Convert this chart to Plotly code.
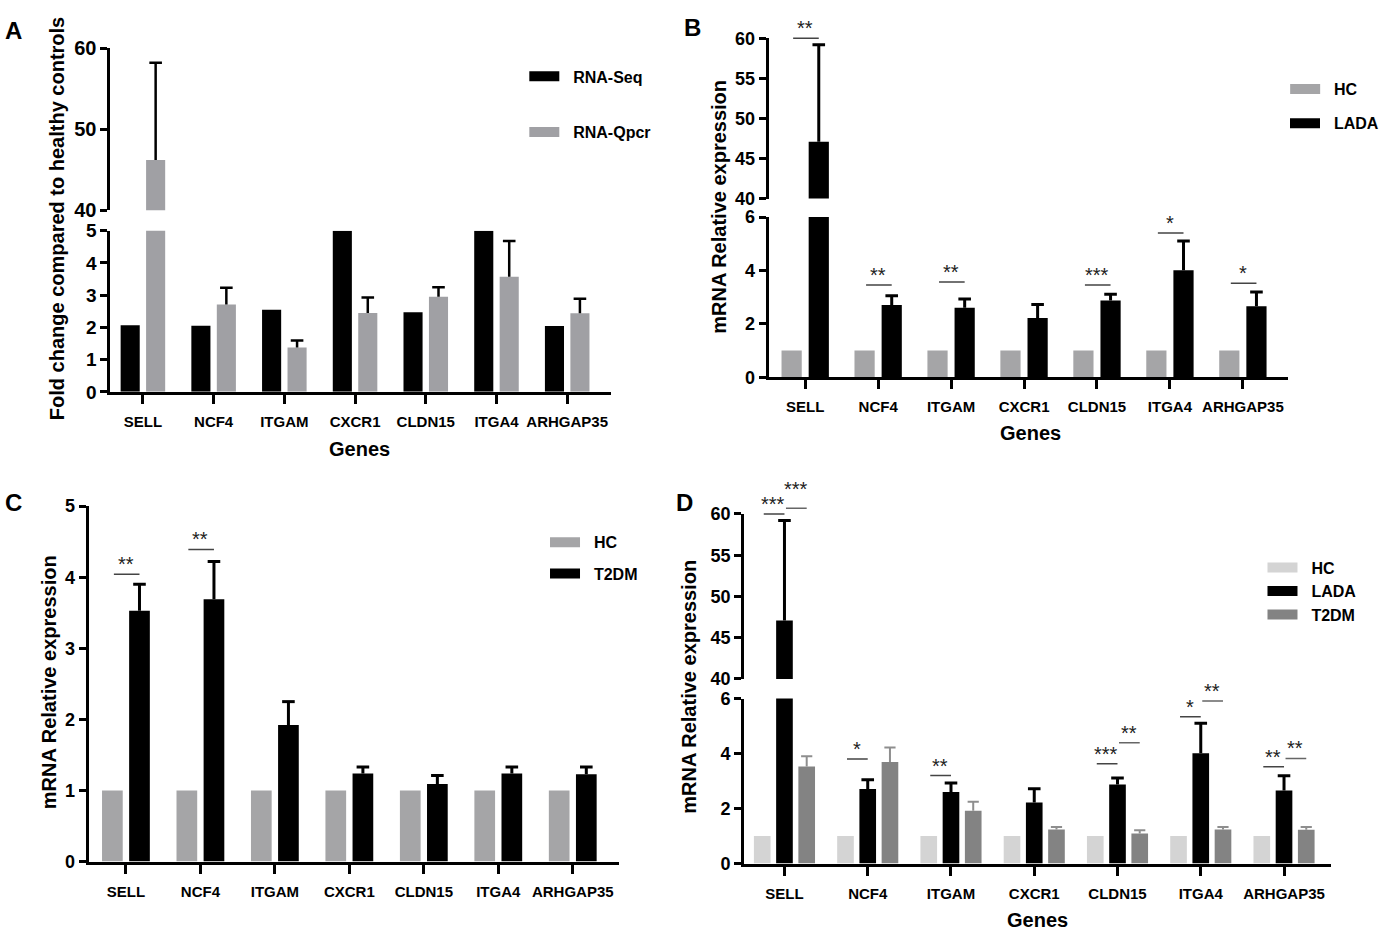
import plotly.graph_objects as go

W, H = 1384, 939
FONT = "Liberation Sans, Arial, sans-serif"

genes = ["SELL", "NCF4", "ITGAM", "CXCR1", "CLDN15", "ITGA4", "ARHGAP35"]

# panel A: fold change vs healthy controls
rna_seq = [2.07, 2.05, 2.55, 5.0, 2.47, 5.0, 2.04]
rna_qpcr = [46.2, 2.71, 1.38, 2.45, 2.95, 3.57, 2.44]
rna_qpcr_err = [12.0, 0.52, 0.21, 0.48, 0.30, 1.11, 0.45]

# panels B-D: relative mRNA expression
hc = [1, 1, 1, 1, 1, 1, 1]
lada = [47.1, 2.71, 2.60, 2.22, 2.87, 4.01, 2.66]
lada_err = [12.1, 0.34, 0.33, 0.50, 0.24, 1.09, 0.53]
t2dm = [3.53, 3.69, 1.92, 1.24, 1.09, 1.24, 1.23]
t2dm_err = [0.37, 0.53, 0.33, 0.09, 0.12, 0.09, 0.10]

# significance marks (gene index, line level, label)
sig_b_idx = [0, 1, 2, 4, 5, 6]
sig_b_lvl = [60, 3.45, 3.57, 3.45, 5.4, 3.52]
sig_b_txt = ["**", "**", "**", "***", "*", "*"]

sig_c_idx = [0, 1]
sig_c_lvl = [4.04, 4.39]
sig_c_txt = ["**", "**"]

sig_d1_idx = [0, 1, 2, 4, 5, 6]
sig_d1_lvl = [60, 3.8, 3.2, 3.63, 5.34, 3.52]
sig_d1_txt = ["***", "*", "**", "***", "*", "**"]

sig_d2_idx = [0, 4, 5, 6]
sig_d2_lvl = [60.7, 4.39, 5.91, 3.82]
sig_d2_txt = ["***", "**", "**", "**"]


def px(v):
    return v / W


def py(v):
    return 1 - v / H


def sfx(n):
    return "" if n == 1 else str(n)


fig = go.Figure()
layout = {}
annotations = []
yranges = {}


def make_x(n, dom, rng, visible=True):
    layout["xaxis" + sfx(n)] = dict(
        domain=[px(dom[0]), px(dom[1])], range=rng, anchor="y" + sfx(n),
        visible=visible, tickmode="array", tickvals=list(range(len(genes))),
        ticktext=genes, showline=True, linewidth=3, linecolor="black",
        ticks="outside", ticklen=9, tickwidth=3, tickcolor="black",
        showgrid=False, zeroline=False, ticklabelstandoff=5,
        tickfont=dict(family=FONT, size=15, color="black", weight="bold"),
    )


def make_y(n, dom, rng, dtick, size=18):
    yranges[n] = rng
    layout["yaxis" + sfx(n)] = dict(
        domain=[py(dom[1]), py(dom[0])], range=rng, anchor="x" + sfx(n),
        tick0=rng[0], dtick=dtick, showline=True, linewidth=3,
        linecolor="black", ticks="outside", ticklen=7, tickwidth=3,
        tickcolor="black", showgrid=False, zeroline=False,
        tickfont=dict(family=FONT, size=size, color="black", weight="bold"),
    )


def bars(axes, values, off, width, color):
    xs = [i + off for i in range(len(values))]
    for n in axes:
        fig.add_trace(go.Bar(
            x=xs, y=values, width=width, xaxis="x" + sfx(n), yaxis="y" + sfx(n),
            marker=dict(color=color, line=dict(width=0)),
            showlegend=False, hoverinfo="skip"))


def errs(axes, values, err, off, color, thick, cap):
    xs = [i + off for i in range(len(values))]
    top = [v + e for v, e in zip(values, err)]
    for n in axes:
        fig.add_trace(go.Scatter(
            x=xs, y=top, mode="markers", xaxis="x" + sfx(n), yaxis="y" + sfx(n),
            marker=dict(symbol="line-ew", size=cap, color=color,
                        line=dict(width=thick, color=color)),
            error_y=dict(type="data", symmetric=False, array=[0] * len(err),
                         arrayminus=err, width=0, thickness=thick, color=color),
            showlegend=False, hoverinfo="skip"))


def sig(n_lo, n_up, idx, lvl, txt, off0, off1, color, lift=None):
    lift = lift or {}
    for k, (i, lev, lab) in enumerate(zip(idx, lvl, txt)):
        n = n_up if (n_up and lev >= 40) else n_lo
        lo, hi = yranges[n]
        frac = (lev - lo) / (hi - lo)  # position inside the axis domain
        x0, x1 = i + off0, i + off1
        yr = "y" + sfx(n) + " domain"
        annotations.append(dict(
            xref="x" + sfx(n), yref=yr, axref="x" + sfx(n), ayref=yr,
            x=x1, y=frac, ax=x0, ay=frac, text="", showarrow=True,
            arrowhead=0, arrowwidth=1.5, arrowcolor=color, standoff=0,
            startstandoff=0))
        annotations.append(dict(
            xref="x" + sfx(n), yref=yr, x=(x0 + x1) / 2, y=frac, text=lab,
            showarrow=False, yanchor="bottom", yshift=-3 + lift.get(k, 0),
            font=dict(family=FONT, size=20, color="#222222")))


legend_count = [0]


def legend_item(label, color, left, cy):
    legend_count[0] += 1
    k = legend_count[0]
    fig.add_trace(go.Scatter(
        x=[None], y=[None], mode="lines", name="\u00a0\u00a0" + label,
        line=dict(color=color, width=10), legend="legend" + sfx(k),
        showlegend=True, hoverinfo="skip"))
    layout["legend" + sfx(k)] = dict(
        x=px(left - 3), y=py(cy), xanchor="left", yanchor="middle",
        bgcolor="rgba(0,0,0,0)", borderwidth=0, itemclick=False,
        font=dict(family=FONT, size=16, color="black", weight="bold"))


def text(s, x, y, size, angle=0):
    annotations.append(dict(
        xref="paper", yref="paper", x=px(x), y=py(y), text=s, showarrow=False,
        textangle=angle, xanchor="center", yanchor="middle",
        font=dict(family=FONT, size=size, color="black", weight="bold")))


# ---- panel A (broken axis 0-5 / 40-60)
rngA = [-0.46, 6.62]
make_x(1, (112, 620), rngA)
make_y(1, (225, 390), [0, 5], 1, size=19)
make_x(2, (112, 620), rngA, visible=False)
make_y(2, (38, 204), [40, 60], 10, size=20)
bars([1, 2], rna_seq, -0.18, 0.27, "#000000")
bars([1, 2], rna_qpcr, 0.18, 0.27, "#a0a0a4")
errs([1, 2], rna_qpcr, rna_qpcr_err, 0.18, "#000000", 2.5, 9)
legend_item("RNA-Seq", "#000000", 535, 67)
legend_item("RNA-Qpcr", "#a0a0a4", 535, 124)
text("Fold change compared to healthy controls", 58, 213, 20, -90)
text("Genes", 365, 449, 20)
text("A", 14, 20, 24)

# ---- panel B (broken axis 0-6 / 40-60)
rngB = [-0.5, 6.62]
make_x(3, (780, 1307), rngB)
make_y(3, (211, 375), [0, 6], 2)
make_x(4, (780, 1307), rngB, visible=False)
make_y(4, (28, 192), [40, 60], 5)
bars([3, 4], hc, -0.186, 0.277, "#a5a5a7")
bars([3, 4], lada, 0.186, 0.277, "#000000")
errs([3, 4], lada, lada_err, 0.186, "#000000", 3, 9)
sig(3, 4, sig_b_idx, sig_b_lvl, sig_b_txt, -0.186, 0.186, "#444444")
legend_item("HC", "#a5a5a7", 1307, 80)
legend_item("LADA", "#000000", 1307, 115)
text("mRNA Relative expression", 730, 200, 20, -90)
text("Genes", 1046, 432, 20)
text("B", 703, 17, 24)

# ---- panel C
rngC = [-0.5, 6.62]
make_x(5, (90, 628), rngC)
make_y(5, (507, 871), [0, 5], 1)
bars([5], hc, -0.182, 0.278, "#a5a5a7")
bars([5], t2dm, 0.182, 0.278, "#000000")
errs([5], t2dm, t2dm_err, 0.182, "#000000", 3, 9)
sig(5, None, sig_c_idx, sig_c_lvl, sig_c_txt, -0.182, 0.182, "#444444")
legend_item("HC", "#a5a5a7", 556, 544)
legend_item("T2DM", "#000000", 556, 576)
text("mRNA Relative expression", 50, 687, 20, -90)
text("C", 14, 503, 24)

# ---- panel D (broken axis 0-6 / 40-60)
rngD = [-0.485, 6.57]
make_x(6, (755, 1351), rngD)
make_y(6, (704, 873), [0, 6], 2)
make_x(7, (755, 1351), rngD, visible=False)
make_y(7, (515, 684), [40, 60], 5)
bars([6, 7], hc, -0.267, 0.2, "#d4d4d4")
bars([6, 7], lada, 0.0, 0.2, "#000000")
bars([6, 7], t2dm, 0.267, 0.2, "#838383")
errs([6, 7], lada, lada_err, 0.0, "#000000", 3, 9)
errs([6, 7], t2dm, t2dm_err, 0.267, "#8e8e8e", 2, 8)
sig(6, 7, sig_d1_idx, sig_d1_lvl, sig_d1_txt, -0.267, 0.0, "#444444")
sig(6, 7, sig_d2_idx, sig_d2_lvl, sig_d2_txt, 0.0, 0.267, "#666666", lift={0: 9})
legend_item("HC", "#d4d4d4", 1284, 570)
legend_item("LADA", "#000000", 1284, 594)
legend_item("T2DM", "#838383", 1284, 618)
text("mRNA Relative expression", 699, 692, 20, -90)
text("Genes", 1053, 931, 20)
text("D", 695, 503, 24)

fig.update_layout(
    width=W, height=H, autosize=False,
    margin=dict(l=0, r=0, t=0, b=0),
    paper_bgcolor="white", plot_bgcolor="white",
    barmode="overlay", annotations=annotations,
    font=dict(family=FONT, color="black"),
    **layout,
)

# drop the default page margin so the 1384x939 figure fills the window
fig.write_html(
    "out.html",
    config={"displayModeBar": False},
    post_script="document.body.style.margin='0';document.body.style.overflow='hidden';",
)
